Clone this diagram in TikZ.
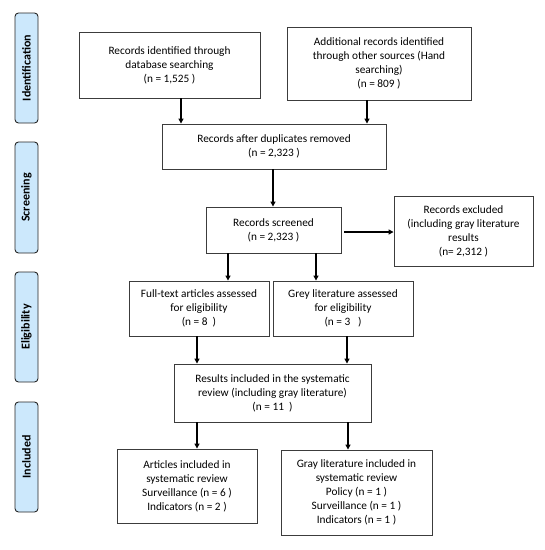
\documentclass[tikz,border=0pt]{standalone}
\usepackage{fontspec}
\setmainfont{Carlito}
\usetikzlibrary{arrows.meta}
\definecolor{sidefill}{RGB}{204,232,252}
\definecolor{boxline}{RGB}{60,60,60}
\tikzset{
  box/.style={draw=boxline, line width=0.9pt, fill=white, align=center, inner sep=0pt,
    font=\fontsize{11.3}{14}\selectfont},
  side/.style={draw=black!85, line width=0.9pt, fill=sidefill, rounded corners=3.5pt,
    minimum height=23pt, inner sep=0pt, font=\bfseries\fontsize{12}{14}\selectfont, rotate=90},
  arr/.style={-{Triangle[length=5pt,width=5pt]}, line width=1.2pt, black}
}
\begin{document}
\begin{tikzpicture}[x=1pt,y=-1pt]
\useasboundingbox (0,0) rectangle (545,550);
% side labels
\node[side, minimum width=110pt] (s1) at (26.5,68) {Identification};
\node[side, minimum width=111pt] (s2) at (26.5,197.5) {Screening};
\node[side, minimum width=110pt] (s3) at (26.5,327) {Eligibility};
\node[side, minimum width=110pt] (s4) at (26.5,457) {Included};
% boxes
\node[box, minimum width=181pt, minimum height=66pt] (b1) at (169.5,65)
  {Records identified through\\database searching\\(n = 1,525 )};
\node[box, minimum width=184pt, minimum height=73pt] (b2) at (379,63.5)
  {Additional records identified\\through other sources (Hand\\searching)\\(n = 809 )};
\node[box, minimum width=224pt, minimum height=45pt] (b3) at (274,146.5)
  {Records after duplicates removed\\(n = 2,323 )};
\node[box, minimum width=135pt, minimum height=46pt] (b4) at (273.5,230)
  {Records screened\\(n = 2,323 )};
\node[box, minimum width=139pt, minimum height=70pt] (b5) at (463.5,231)
  {Records excluded\\(including gray literature\\results\\(n= 2,312 )};
\node[box, minimum width=140pt, minimum height=55pt] (b6) at (199,308.5)
  {Full-text articles assessed\\for eligibility\\(n = 8~~)};
\node[box, minimum width=140pt, minimum height=55pt] (b7) at (343,308.5)
  {Grey literature assessed\\for eligibility\\(n = 3~~~)};
\node[box, minimum width=197pt, minimum height=58pt] (b8) at (272.5,393)
  {Results included in the systematic\\review (including gray literature)\\(n = 11~~)};
\node[box, minimum width=140pt, minimum height=74pt] (b9) at (187,486)
  {Articles included in\\systematic review\\Surveillance (n = 6 )\\Indicators (n = 2 )};
\node[box, minimum width=151pt, minimum height=85pt] (b10) at (356.5,492.5)
  {Gray literature included in\\systematic review\\Policy (n = 1 )\\Surveillance (n = 1 )\\Indicators (n = 1 )};
% arrows
\draw[arr] (b1.south -| 181,0) -- (b3.north -| 181,0);
\draw[arr] (b2.south -| 367,0) -- (b3.north -| 367,0);
\draw[arr] (b3.south -| 273,0) -- (b4.north -| 273,0);
\draw[arr] (344,232) -- (b5.west |- 0,232);
\draw[arr] (b4.south -| 228,0) -- (b6.north -| 228,0);
\draw[arr] (b4.south -| 316,0) -- (b7.north -| 316,0);
\draw[arr] (b6.south -| 197,0) -- (b8.north -| 197,0);
\draw[arr] (b7.south -| 347,0) -- (b8.north -| 347,0);
\draw[arr] (b8.south -| 197,0) -- (b9.north -| 197,0);
\draw[arr] (b8.south -| 348,0) -- (b10.north -| 348,0);
\end{tikzpicture}
\end{document}
